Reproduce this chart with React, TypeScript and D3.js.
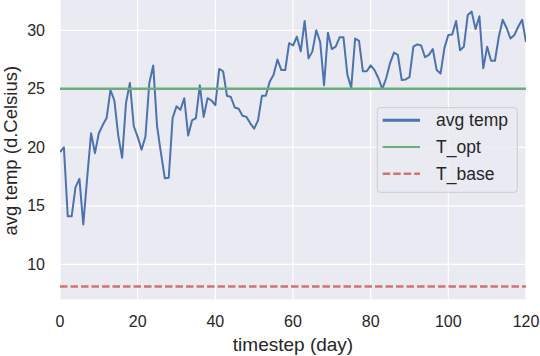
import React from "react";
import * as d3 from "d3";

const days: number[] = d3.range(0, 121);
const avgTemp: number[] = [
  19.6, 20.0, 14.1, 14.1, 16.6, 17.3, 13.4, 17.4, 21.2, 19.5,
  21.2, 21.9, 22.5, 24.9, 24.0, 21.0, 19.1, 23.8, 25.5, 21.8,
  20.9, 19.8, 20.9, 25.5, 27.0, 21.8, 19.5, 17.35, 17.4, 22.5,
  23.5, 23.2, 24.2, 21.0, 22.3, 22.5, 25.3, 22.6, 24.2, 24.0,
  23.6, 26.7, 26.5, 24.4, 24.3, 23.4, 23.3, 22.7, 22.6, 22.05,
  21.6, 22.3, 24.4, 24.4, 25.6, 26.2, 27.5, 26.6, 26.6, 28.9,
  28.7, 29.45, 28.2, 30.8, 27.6, 28.2, 30.0, 29.0, 25.3, 29.8,
  28.4, 28.6, 29.4, 29.4, 26.2, 25.1, 29.3, 29.1, 26.5, 26.5,
  27.0, 26.6, 25.9, 25.0, 25.9, 27.2, 28.1, 27.9, 25.75, 25.8,
  26.0, 28.6, 28.8, 28.7, 27.7, 27.9, 28.4, 26.6, 26.3, 28.5,
  29.6, 29.65, 30.8, 28.3, 28.6, 31.3, 31.6, 30.1, 31.2, 26.75,
  28.6, 27.4, 27.4, 29.45, 30.9, 30.2, 29.3, 29.6, 30.3, 30.9,
  29.0,
];
const tOpt = 25;
const tBase = 8.1;
const xTicks: number[] = [0, 20, 40, 60, 80, 100, 120];
const yTicks: number[] = [10, 15, 20, 25, 30];
const legendLabels: string[] = ["avg temp", "T_opt", "T_base"];

const W = 540;
const H = 356;
const left = 60, right = 526, top = 0, bottom = 299.3;

export default function App() {
  const x = d3.scaleLinear().domain([0, 120]).range([left, right]);
  const y = d3.scaleLinear().domain([7.01, 32.59]).range([bottom, top]);
  const line = d3
    .line<number>()
    .x((_, i) => x(days[i]))
    .y((d) => y(d));
  const font = "'Liberation Sans', Arial, sans-serif";
  const textColor = "#262626";
  const blue = "#4c72b0";
  const green = "#6aae7b";
  const red = "#cf7373";
  const legendRowsY = [120.3, 147, 173.7];
  const legendColors = [blue, green, red];

  return (
    <svg
      width={W}
      height={H}
      style={{ position: "absolute", left: 0, top: 0 }}
      fontFamily={font}
    >
      <rect x={left} y={top} width={right - left} height={bottom - top} fill="#eaeaf2" />
      {xTicks.map((t) => (
        <line key={"gx" + t} x1={x(t)} x2={x(t)} y1={top} y2={bottom} stroke="#fff" strokeWidth={1.2} />
      ))}
      {yTicks.map((t) => (
        <line key={"gy" + t} x1={left} x2={right} y1={y(t)} y2={y(t)} stroke="#fff" strokeWidth={1.2} />
      ))}
      <clipPath id="plotclip">
        <rect x={left} y={top} width={right - left} height={bottom - top} />
      </clipPath>
      <g clipPath="url(#plotclip)">
        <path d={line(avgTemp) || ""} fill="none" stroke={blue} strokeWidth={2} strokeLinejoin="round" />
        <line x1={left} x2={right} y1={y(tOpt)} y2={y(tOpt)} stroke={green} strokeWidth={2.6} />
        <line x1={left} x2={right} y1={y(tBase)} y2={y(tBase)} stroke={red} strokeWidth={2.6} strokeDasharray="7.5,3" />
      </g>
      {xTicks.map((t) => (
        <text key={"tx" + t} x={x(t)} y={327} textAnchor="middle" fontSize={16} fill={textColor}>
          {t}
        </text>
      ))}
      {yTicks.map((t) => (
        <text key={"ty" + t} x={45} y={y(t)} dy="0.35em" textAnchor="end" fontSize={16} fill={textColor}>
          {t}
        </text>
      ))}
      <text x={(left + right) / 2} y={351} textAnchor="middle" fontSize={19} fill={textColor}>
        timestep (day)
      </text>
      <text
        transform={`translate(16.5, ${(top + bottom) / 2 + 1}) rotate(-90)`}
        textAnchor="middle"
        fontSize={18.5}
        fill={textColor}
      >
        avg temp (d.Celsius)
      </text>
      <rect x={377.3} y={107.7} width={140} height={84.6} rx={3} fill="#eaeaf2" fillOpacity={0.8} stroke="#cccccc" strokeWidth={1} />
      {legendLabels.map((lab, i) => (
        <g key={lab}>
          <line
            x1={382.7}
            x2={420}
            y1={legendRowsY[i]}
            y2={legendRowsY[i]}
            stroke={legendColors[i]}
            strokeWidth={i === 0 ? 3 : i === 1 ? 2 : 2.6}
            strokeDasharray={i === 2 ? "7.5,3" : undefined}
          />
          <text x={436} y={legendRowsY[i]} dy="0.35em" fontSize={17.5} fill={textColor}>
            {lab}
          </text>
        </g>
      ))}
    </svg>
  );
}
